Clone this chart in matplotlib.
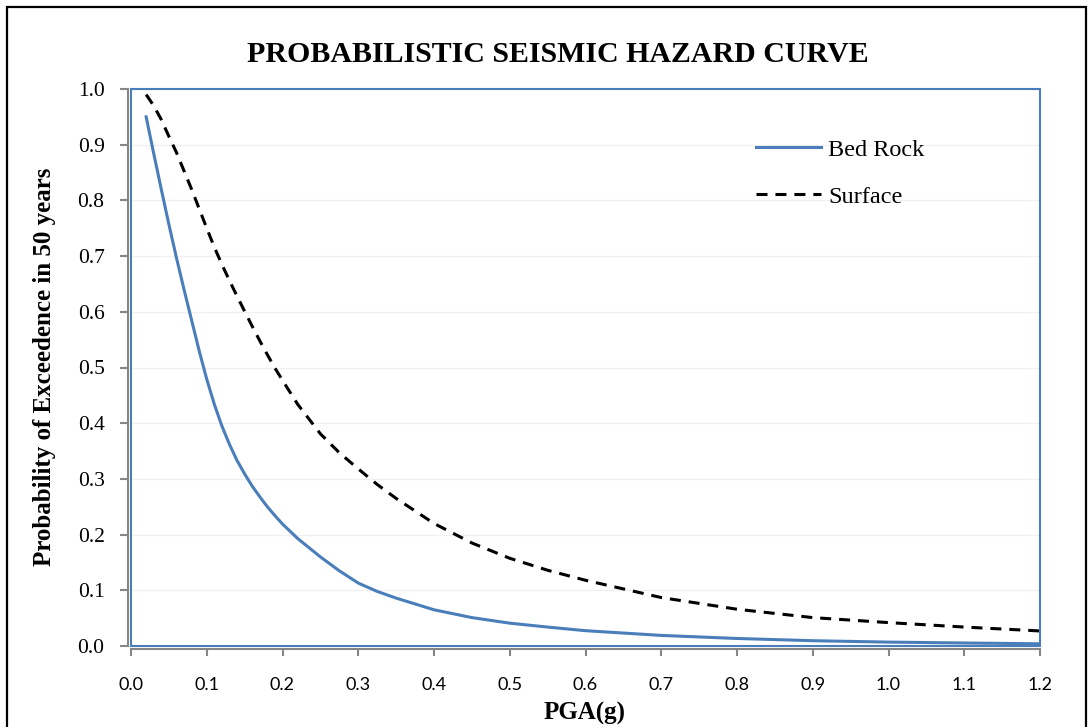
import matplotlib.pyplot as plt
from matplotlib.patches import Rectangle

# PGA (g) and probability of exceedence in 50 years
pga = [0.02, 0.03, 0.04, 0.05, 0.06, 0.07, 0.08, 0.09, 0.10, 0.11, 0.12, 0.13,
       0.14, 0.15, 0.16, 0.17, 0.18, 0.19, 0.20, 0.22, 0.25, 0.275, 0.30, 0.325,
       0.35, 0.40, 0.45, 0.50, 0.55, 0.60, 0.70, 0.80, 0.90, 1.00, 1.10, 1.20]
bed_rock = [0.95, 0.884, 0.82, 0.757, 0.697, 0.64, 0.585, 0.53, 0.479, 0.434,
            0.395, 0.362, 0.333, 0.309, 0.287, 0.268, 0.25, 0.234, 0.219,
            0.193, 0.16, 0.135, 0.113, 0.098, 0.086, 0.065, 0.051, 0.041, 0.034,
            0.0275, 0.019, 0.0135, 0.0095, 0.007, 0.0054, 0.004]
surface = [0.99, 0.97, 0.945, 0.915, 0.886, 0.853, 0.82, 0.785, 0.75, 0.716,
           0.685, 0.656, 0.628, 0.601, 0.574, 0.548, 0.523, 0.499, 0.477,
           0.434, 0.381, 0.347, 0.318, 0.29, 0.265, 0.22, 0.185, 0.1575, 0.136,
           0.118, 0.087, 0.066, 0.051, 0.042, 0.034, 0.027]

xticks = [i / 10 for i in range(13)]
yticks = [i / 10 for i in range(11)]

serif = 'Liberation Serif'
blue = '#4A7EBB'
gray = '#868686'

fig = plt.figure(figsize=(10.9, 7.27), dpi=100)
ax = fig.add_axes([131 / 1090, 1 - 646 / 727, 909 / 1090, 557 / 727])

# spines first (set_position resets the ticks)
for s in ['top', 'right']:
    ax.spines[s].set_visible(False)
for s in ['left', 'bottom']:
    ax.spines[s].set_color(gray)
    ax.spines[s].set_linewidth(1.5)
    ax.spines[s].set_position(('outward', 2))
    ax.spines[s].set_zorder(4)
# plot area frame in blue
ax.add_patch(Rectangle((0, 0), 1, 1, transform=ax.transAxes, fill=False,
                       edgecolor=blue, lw=1.5, clip_on=False, zorder=3))

ax.plot(pga, bed_rock, color=blue, lw=2.2, label='Bed Rock')
ax.plot(pga, surface, color='black', lw=2.2, linestyle=(0, (3.6, 2.6)), label='Surface')

ax.set_xlim(0, 1.2)
ax.set_ylim(0, 1.0)
ax.tick_params(axis='x', direction='out', length=5, width=1.5, color=gray, pad=15)
ax.tick_params(axis='y', direction='out', length=6, width=1.5, color=gray, pad=11)
ax.set_xticks(xticks)
ax.set_yticks(yticks)
ax.set_xticklabels([f'{v:.1f}' for v in xticks], fontfamily='Lato', fontsize=13)
ax.set_yticklabels([f'{v:.1f}' for v in yticks], fontfamily=serif, fontsize=15.5)
ax.grid(axis='y', color='#F0F0F0', lw=1)
ax.set_axisbelow(True)

ax.legend(loc='upper left', bbox_to_anchor=(0.6634, 0.95), frameon=False,
          prop={'family': serif, 'size': 17.5}, handlelength=2.67,
          handletextpad=0.3, labelspacing=1.02)

fig.text(0.5115, 1 - 55 / 727, 'PROBABILISTIC SEISMIC HAZARD CURVE',
         family=serif, fontsize=21.5, fontweight='bold', ha='center', va='center')
fig.text(585 / 1090, 1 - 713 / 727, 'PGA(g)', family=serif, fontsize=18,
         fontweight='bold', ha='center', va='center')
fig.text(45 / 1090, 1 - 367 / 727, 'Probability of Exceedence in 50 years',
         family=serif, fontsize=18, fontweight='bold', rotation=90,
         ha='center', va='center')

# outer border of the chart
fig.patches.append(Rectangle((7 / 1090, -0.02), 1079 / 1090, 1 - 7 / 727 + 0.02,
                             transform=fig.transFigure, fill=False,
                             edgecolor='black', lw=1.6))

fig.savefig('out.png', dpi=100)
